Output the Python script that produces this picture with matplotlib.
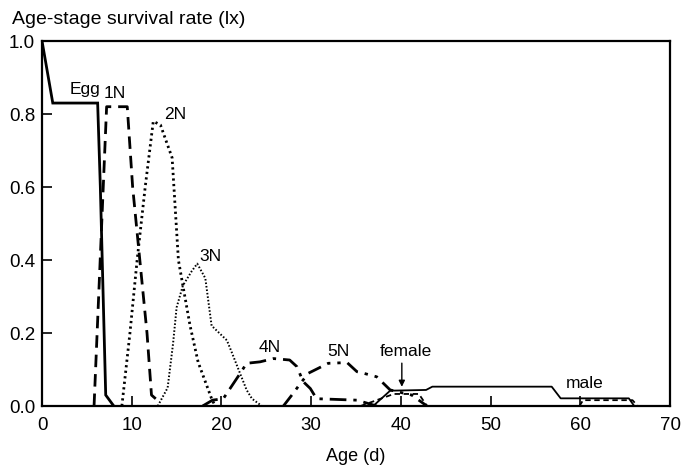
import matplotlib
matplotlib.use("Agg")
import matplotlib.pyplot as plt

plt.rcParams['font.family'] = ['Liberation Sans', 'DejaVu Sans']

# Age-stage survival curves (age in days, survival rate lx)
egg_age = [0, 1.2, 6.2, 6.5, 7.1, 8.0]
egg_lx = [1.0, 0.83, 0.83, 0.60, 0.03, 0.0]

n1_age = [5.8, 7.2, 9.5, 10.1, 10.9, 11.7, 12.2, 12.9]
n1_lx = [0.0, 0.82, 0.82, 0.60, 0.40, 0.20, 0.03, 0.015]

n2_age = [8.9, 9.8, 10.6, 11.5, 12.4, 13.2, 14.5, 15.2, 15.7, 16.5, 17.4, 18.9, 19.3]
n2_lx = [0.0, 0.20, 0.40, 0.60, 0.78, 0.77, 0.68, 0.40, 0.33, 0.22, 0.12, 0.02, 0.0]

n3_age = [12.9, 14.0, 14.6, 15.0, 15.7, 16.7, 17.3, 18.2, 18.9, 20.6, 21.1, 21.9, 22.8, 23.4, 24.5]
n3_lx = [0.0, 0.05, 0.17, 0.27, 0.33, 0.37, 0.39, 0.35, 0.22, 0.18, 0.15, 0.10, 0.044, 0.02, 0.0]

n4_age = [17.9, 19.0, 20.2, 22.1, 22.8, 24.3, 25.8, 27.6, 28.4, 29.1, 29.9, 30.6, 35.1, 37.3]
n4_lx = [0.0, 0.016, 0.02, 0.09, 0.117, 0.121, 0.13, 0.126, 0.108, 0.067, 0.048, 0.02, 0.016, 0.0]

n5_age = [26.9, 28.0, 28.8, 29.7, 31.9, 34.0, 35.1, 35.8, 37.3, 38.8, 41.2, 42.9]
n5_lx = [0.0, 0.035, 0.062, 0.09, 0.117, 0.119, 0.094, 0.09, 0.08, 0.044, 0.03, 0.0]

female_age = [35.5, 39.2, 42.0, 42.9]
female_lx = [0.0, 0.033, 0.033, 0.0]

male_age = [36.9, 38.8, 42.8, 43.5, 56.8, 57.8, 65.4, 66.0]
male_lx = [0.0, 0.042, 0.044, 0.053, 0.053, 0.021, 0.021, 0.0]

male_late_age = [59.9, 60.3, 65.8, 66.4]
male_late_lx = [0.0, 0.016, 0.016, 0.0]

fig = plt.figure(figsize=(6.82, 4.67), dpi=100)
ax = fig.add_axes([0.0616, 0.1306, 0.921, 0.7816])

ax.plot(egg_age, egg_lx, color='black', lw=2.0, solid_joinstyle='miter')
ax.plot(n1_age, n1_lx, color='black', lw=2.0, linestyle=(0, (4.5, 2.5)))
ax.plot(n2_age, n2_lx, color='black', lw=2.0, linestyle=(0, (0.8, 1.2)))
ax.plot(n3_age, n3_lx, color='black', lw=1.4, linestyle=(0, (0.8, 1.0)))
ax.plot(n4_age, n4_lx, color='black', lw=2.0, linestyle=(0, (6, 2.5, 1.2, 2.5)))
ax.plot(n5_age, n5_lx, color='black', lw=2.0, linestyle=(0, (5, 2.5, 1.2, 2.5, 1.2, 2.5)))
ax.plot(female_age, female_lx, color='black', lw=1.3, linestyle=(0, (3, 2)))
ax.plot(male_age, male_lx, color='black', lw=1.3)
ax.plot(male_late_age, male_late_lx, color='black', lw=1.3, linestyle=(0, (3, 2)))

ax.set_xlim(0, 70)
ax.set_ylim(0, 1.0)
ax.set_xticks(range(0, 71, 10))
ax.set_yticks([0.0, 0.2, 0.4, 0.6, 0.8, 1.0])
ax.set_yticklabels(['0.0', '0.2', '0.4', '0.6', '0.8', '1.0'])
ax.tick_params(direction='in', length=7, width=1.2, labelsize=13.5)
ax.tick_params(axis='x', pad=8)
ax.tick_params(axis='y', pad=5)
for s in ax.spines.values():
    s.set_linewidth(1.6)

ax.set_xlabel('Age (d)', fontsize=13, labelpad=10)

lbl = dict(fontsize=12.5, ha='center', va='center')
ax.text(4.8, 0.866, 'Egg', **lbl)
ax.text(8.1, 0.855, '1N', **lbl)
ax.text(14.8, 0.80, '2N', **lbl)
ax.text(18.8, 0.41, '3N', **lbl)
ax.text(25.4, 0.16, '4N', **lbl)
ax.text(33.0, 0.148, '5N', **lbl)
ax.text(40.5, 0.148, 'female', **lbl)
ax.text(60.5, 0.063, 'male', **lbl)
ax.annotate('', xy=(40.1, 0.045), xytext=(40.1, 0.125),
            arrowprops=dict(arrowstyle='-|>', color='black', lw=1.0, mutation_scale=9))

fig.text(12 / 682, 1 - 20 / 467, 'Age-stage survival rate (lx)', fontsize=14, ha='left', va='center')

fig.savefig('out.png', dpi=100)
